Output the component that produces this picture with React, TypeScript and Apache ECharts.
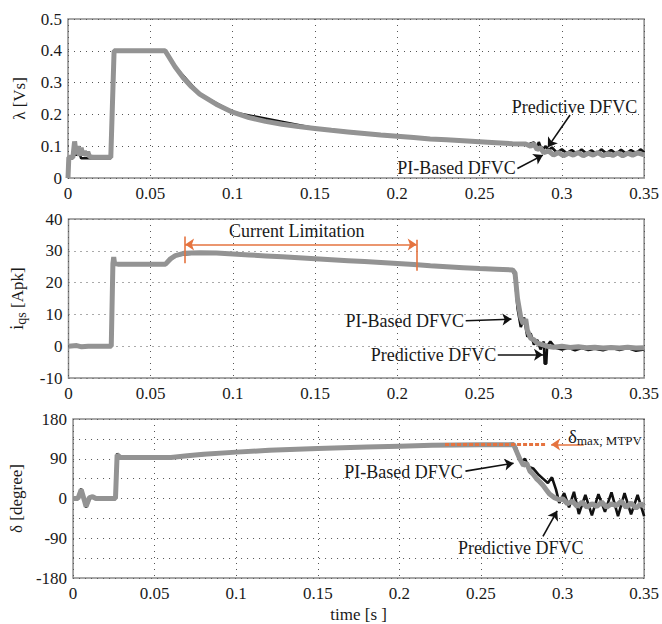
import React, { useEffect, useRef } from 'react';
import * as echarts from 'echarts';

// ---- Data (time [s], value) ----
const lambdaPI: [number, number][] = [
  [0, 0], [0.0005, 0.065], [0.003, 0.065], [0.004, 0.115], [0.005, 0.075], [0.006, 0.1], [0.007, 0.07],
  [0.008, 0.095], [0.009, 0.072], [0.01, 0.085], [0.011, 0.07], [0.012, 0.082], [0.013, 0.068], [0.015, 0.065],
  [0.026, 0.065], [0.028, 0.4], [0.059, 0.4], [0.062, 0.375], [0.065, 0.35], [0.07, 0.315], [0.075, 0.287],
  [0.08, 0.264], [0.09, 0.232], [0.1, 0.207], [0.11, 0.19], [0.12, 0.178], [0.13, 0.169], [0.14, 0.162],
  [0.15, 0.156], [0.16, 0.15], [0.17, 0.145], [0.18, 0.14], [0.19, 0.135], [0.2, 0.131], [0.21, 0.127],
  [0.22, 0.123], [0.23, 0.12], [0.24, 0.117], [0.25, 0.114], [0.26, 0.111], [0.27, 0.108], [0.278, 0.107],
  [0.281, 0.1], [0.283, 0.108], [0.285, 0.09], [0.287, 0.095], [0.289, 0.08], [0.292, 0.085], [0.295, 0.072],
  [0.298, 0.08], [0.301, 0.07], [0.304, 0.078], [0.307, 0.072], [0.31, 0.08], [0.313, 0.07], [0.316, 0.078],
  [0.319, 0.072], [0.322, 0.08], [0.325, 0.07], [0.328, 0.077], [0.331, 0.071], [0.334, 0.079], [0.337, 0.07],
  [0.34, 0.078], [0.343, 0.072], [0.346, 0.079], [0.35, 0.073],
];
const lambdaPred: [number, number][] = [
  [0, 0], [0.0005, 0.062], [0.003, 0.062], [0.004, 0.11], [0.005, 0.07], [0.006, 0.095], [0.008, 0.062],
  [0.026, 0.062], [0.028, 0.4], [0.059, 0.4], [0.065, 0.35], [0.08, 0.264], [0.1, 0.207], [0.15, 0.156],
  [0.2, 0.131], [0.25, 0.114], [0.27, 0.108], [0.28, 0.106], [0.283, 0.112], [0.285, 0.095], [0.286, 0.113],
  [0.288, 0.085], [0.29, 0.1], [0.292, 0.088], [0.294, 0.096], [0.297, 0.08], [0.3, 0.09], [0.303, 0.078],
  [0.306, 0.088], [0.309, 0.076], [0.312, 0.09], [0.315, 0.077], [0.318, 0.087], [0.321, 0.075], [0.324, 0.09],
  [0.327, 0.078], [0.33, 0.088], [0.333, 0.076], [0.336, 0.089], [0.339, 0.077], [0.342, 0.088], [0.345, 0.078],
  [0.348, 0.09], [0.35, 0.08],
];
const iqsPI: [number, number][] = [
  [0, 0], [0.005, 0.2], [0.008, -0.2], [0.012, 0], [0.026, 0], [0.027, 26], [0.0275, 28], [0.028, 26],
  [0.03, 25.8], [0.059, 25.8], [0.062, 27.5], [0.065, 28.5], [0.07, 29.2], [0.08, 29.4], [0.09, 29.3],
  [0.1, 29], [0.11, 28.7], [0.12, 28.4], [0.13, 28.1], [0.14, 27.8], [0.15, 27.5], [0.16, 27.2], [0.17, 26.9],
  [0.18, 26.6], [0.19, 26.3], [0.2, 26], [0.21, 25.7], [0.22, 25.3], [0.23, 25], [0.24, 24.7], [0.25, 24.4],
  [0.26, 24.2], [0.27, 24], [0.2715, 23], [0.273, 15], [0.275, 9], [0.2765, 7], [0.278, 8.5], [0.279, 5],
  [0.281, 2.5], [0.283, 2], [0.285, 1], [0.288, 0.5], [0.291, 0], [0.295, -0.3], [0.3, 0], [0.305, -0.4],
  [0.31, -0.2], [0.315, -0.5], [0.32, -0.3], [0.325, -0.6], [0.33, -0.4], [0.335, -0.6], [0.34, -0.3],
  [0.345, -0.6], [0.35, -0.5],
];
const iqsPred: [number, number][] = [
  [0, 0], [0.026, 0], [0.027, 26], [0.0275, 28], [0.028, 25.6], [0.059, 25.6], [0.065, 28.5], [0.08, 29.4],
  [0.1, 29], [0.15, 27.5], [0.2, 26], [0.25, 24.4], [0.27, 24], [0.2715, 22], [0.273, 12], [0.275, 6],
  [0.277, 9], [0.279, 3], [0.281, 4], [0.283, 0.5], [0.285, 2], [0.287, -1], [0.289, 1.5], [0.2895, -5.5],
  [0.2905, -5.5], [0.291, 0], [0.293, 1.5], [0.296, -0.5], [0.3, -1], [0.304, -0.5], [0.308, -1.3],
  [0.312, -0.6], [0.316, -1.2], [0.32, -0.8], [0.325, -1.3], [0.33, -0.5], [0.335, -1.2], [0.34, -0.6],
  [0.345, -1.4], [0.35, -1],
];
const deltaPI: [number, number][] = [
  [0, 0], [0.003, 0], [0.005, 20], [0.007, -5], [0.008, -18], [0.01, 2], [0.012, 4], [0.014, 0], [0.026, 0],
  [0.027, 99], [0.029, 93], [0.06, 93], [0.07, 97], [0.08, 100], [0.1, 105], [0.12, 109], [0.15, 113],
  [0.18, 116.5], [0.2, 118.5], [0.22, 120.5], [0.25, 121.5], [0.27, 122], [0.272, 105], [0.274, 88],
  [0.276, 75], [0.278, 80], [0.28, 62], [0.282, 55], [0.284, 45], [0.286, 38], [0.288, 30], [0.29, 20],
  [0.292, 10], [0.295, 2], [0.298, -3], [0.3, 0], [0.303, -12], [0.306, -6], [0.309, -18], [0.312, -8],
  [0.315, -20], [0.318, -12], [0.321, -18], [0.324, -8], [0.327, -20], [0.33, -12], [0.333, -16],
  [0.336, -6], [0.339, -20], [0.342, -10], [0.345, -22], [0.348, -12], [0.35, -18],
];
const deltaPred: [number, number][] = [
  [0, 0], [0.003, 0], [0.005, 22], [0.008, -20], [0.011, 5], [0.013, 0], [0.026, 0], [0.027, 102],
  [0.029, 93], [0.06, 93], [0.1, 105], [0.15, 113], [0.2, 118.5], [0.25, 121.5], [0.27, 122], [0.2715, 115],
  [0.273, 95], [0.275, 85], [0.277, 90], [0.279, 72], [0.282, 68], [0.285, 55], [0.288, 45], [0.291, 35],
  [0.2935, 48], [0.296, 20], [0.298, -10], [0.301, 12], [0.304, -20], [0.307, 15], [0.31, -35],
  [0.314, 8], [0.318, -38], [0.322, 10], [0.326, -30], [0.33, 14], [0.334, -40], [0.338, 12],
  [0.342, -36], [0.346, 8], [0.35, -40],
];

// ---- Axis ticks ----
const timeRange = [0, 0.35, 0.05];
const lambdaRange = [0, 0.5, 0.1];
const iqsRange = [-10, 40, 10];
const deltaRange = [-180, 180, 45];

const FONT = 'Liberation Serif, Times New Roman, Times, DejaVu Serif, serif';
const GRAY = '#939393';
const BLACK = '#111111';
const ORANGE = '#e5733f';

type Pt = [number, number];
const arrow = (a: Pt, b: Pt, color = BLACK) => [
  { coord: a, symbol: 'none', lineStyle: { color, width: 1.6, type: 'solid' } },
  { coord: b, symbol: 'arrow' },
];
const plain = (a: Pt, b: Pt, color: string, width = 1.6, type: any = 'solid') => [
  { coord: a, symbol: 'none', lineStyle: { color, width, type } },
  { coord: b, symbol: 'none' },
];
const label = (p: Pt, text: string, color = '#1a1a1a', size = 18) => ({
  coord: p,
  value: text,
  symbol: 'circle',
  symbolSize: 0,
  label: { show: true, position: 'inside', formatter: text, color, fontSize: size, fontFamily: FONT },
});

function buildOption() {
  const grids = [
    { left: 68, top: 19, width: 579, height: 159 },
    { left: 68, top: 219, width: 579, height: 159 },
    { left: 68, top: 419, width: 579, height: 161 },
  ].map((g) => ({ ...g, show: true, borderColor: '#8a8a8a', borderWidth: 1.5, backgroundColor: 'transparent' }));

  const split = { show: true, lineStyle: { type: [1, 5] as any, color: '#555', width: 1 } };
  const labelStyle = { fontFamily: FONT, fontSize: 17, color: '#1a1a1a' };

  const xAxis = [0, 1, 2].map((i) => ({
    type: 'value',
    gridIndex: i,
    min: timeRange[0],
    max: timeRange[1],
    interval: timeRange[2],
    axisLine: { show: false },
    axisTick: { show: false },
    splitLine: split,
    axisLabel: { ...labelStyle, margin: 7, formatter: (v: number) => String(+v.toFixed(2)) },
    name: i === 2 ? 'time [s ]' : '',
    nameLocation: 'middle',
    nameGap: 28,
    nameTextStyle: { ...labelStyle },
  }));

  const yBase = (i: number, r: number[]) => ({
    type: 'value',
    gridIndex: i,
    min: r[0],
    max: r[1],
    interval: r[2],
    axisLine: { show: false },
    axisTick: { show: false },
    splitLine: split,
    nameLocation: 'middle',
    nameRotate: 90,
  });

  const yAxis = [
    {
      ...yBase(0, lambdaRange),
      name: 'λ [Vs]',
      nameGap: 40,
      nameTextStyle: { ...labelStyle },
      axisLabel: { ...labelStyle, margin: 6, formatter: (v: number) => (v === 0 ? '0' : v.toFixed(1)) },
    },
    {
      ...yBase(1, iqsRange),
      name: '{i|i}{s|qs} [Apk]',
      nameGap: 40,
      nameTextStyle: {
        ...labelStyle,
        rich: {
          i: { fontFamily: FONT, fontSize: 18, color: '#1a1a1a' },
          s: { fontFamily: FONT, fontSize: 14, color: '#1a1a1a', padding: [9, 0, 0, 0] },
        },
      },
      axisLabel: { ...labelStyle, margin: 6 },
    },
    {
      ...yBase(2, deltaRange),
      name: 'δ [degree]',
      nameGap: 44,
      nameTextStyle: { ...labelStyle },
      axisLabel: { ...labelStyle, margin: 6, formatter: (v: number) => (v % 90 === 0 ? String(v) : '') },
    },
  ];

  const lineSeries = (data: Pt[], i: number, kind: 'pi' | 'pred') => ({
    type: 'line',
    xAxisIndex: i,
    yAxisIndex: i,
    data,
    showSymbol: false,
    symbol: 'none',
    silent: true,
    z: kind === 'pi' ? 3 : 2,
    lineStyle: kind === 'pi' ? { color: GRAY, width: 5 } : { color: BLACK, width: 2.6 },
  });

  const annot = (i: number, lines: any[], points: any[]) => ({
    type: 'line',
    xAxisIndex: i,
    yAxisIndex: i,
    data: [],
    z: 5,
    silent: true,
    markLine: { silent: true, symbolSize: 9, label: { show: false }, data: lines, animation: false },
    markPoint: { silent: true, data: points, animation: false },
  });

  const series = [
    lineSeries(lambdaPred, 0, 'pred'),
    lineSeries(lambdaPI, 0, 'pi'),
    annot(
      0,
      [arrow([0.305, 0.198], [0.2915, 0.097]), arrow([0.273, 0.03], [0.2885, 0.072])],
      [label([0.3077, 0.224], 'Predictive DFVC'), label([0.236, 0.03], 'PI-Based DFVC')]
    ),
    lineSeries(iqsPred, 1, 'pred'),
    lineSeries(iqsPI, 1, 'pi'),
    annot(
      1,
      [
        arrow([0.2415, 8], [0.2693, 8.5]),
        arrow([0.261, -2.7], [0.2885, -2.7]),
        plain([0.0709, 34.5], [0.0709, 26.1], ORANGE),
        plain([0.2117, 33.5], [0.2117, 23.7], ORANGE),
        [
          { coord: [0.0709, 32], symbol: 'arrow', lineStyle: { color: ORANGE, width: 1.6, type: 'solid' } },
          { coord: [0.2117, 32], symbol: 'arrow' },
        ],
      ],
      [
        label([0.2045, 7.8], 'PI-Based DFVC'),
        label([0.222, -2.7], 'Predictive DFVC'),
        label([0.1388, 36.2], 'Current Limitation'),
      ]
    ),
    lineSeries(deltaPred, 2, 'pred'),
    lineSeries(deltaPI, 2, 'pi'),
    annot(
      2,
      [
        arrow([0.2405, 62], [0.27, 80]),
        arrow([0.288, -86], [0.2967, -28]),
        plain([0.228, 122], [0.29, 122], ORANGE, 3, [4, 2]),
        arrow([0.313, 122], [0.293, 122], ORANGE),
      ],
      [
        label([0.2025, 60], 'PI-Based DFVC'),
        label([0.2744, -112], 'Predictive DFVC'),
        {
          coord: [0.326, 140],
          symbol: 'circle',
          symbolSize: 0,
          label: {
            show: true,
            position: 'inside',
            formatter: '{d|δ}{s|max, MTPV}',
            rich: {
              d: { fontFamily: FONT, fontSize: 19, color: '#1a1a1a' },
              s: { fontFamily: FONT, fontSize: 13, color: '#1a1a1a', padding: [8, 0, 0, 0] },
            },
          },
        },
      ]
    ),
  ];

  return {
    animation: false,
    backgroundColor: '#ffffff',
    textStyle: { fontFamily: FONT },
    grid: grids,
    xAxis,
    yAxis,
    series,
  };
}

export default function App() {
  const ref = useRef<HTMLDivElement>(null);
  useEffect(() => {
    if (!ref.current) return;
    const chart = echarts.init(ref.current, undefined, { renderer: 'svg' });
    chart.setOption(buildOption() as any);
    return () => chart.dispose();
  }, []);
  return <div ref={ref} style={{ position: 'fixed', left: 0, top: 0, width: 662, height: 624, background: '#fff' }} />;
}
